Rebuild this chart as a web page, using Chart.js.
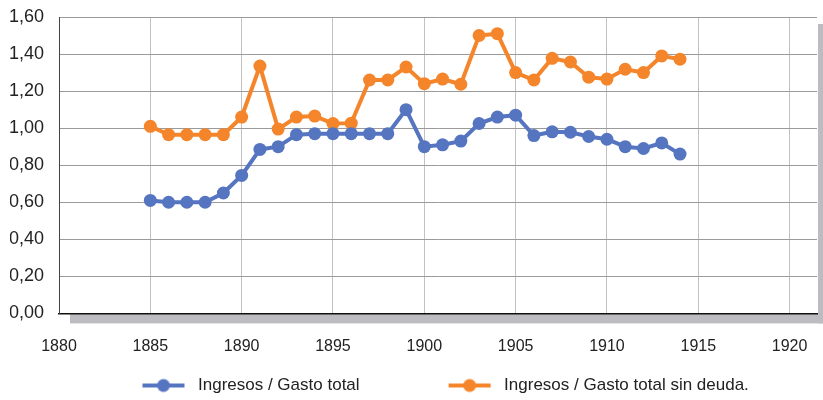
<!DOCTYPE html>
<html>
<head>
<meta charset="utf-8">
<script src="https://cdn.jsdelivr.net/npm/chart.js@4.4.1/dist/chart.umd.min.js"></script>
<style>
  html, body { margin: 0; padding: 0; background: #fff; }
  #wrap { width: 823px; height: 400px; }
</style>
</head>
<body>
<div id="wrap"><canvas id="chart" width="823" height="400"></canvas></div>
<script>
// ---- datos ----
const years = [1885, 1886, 1887, 1888, 1889, 1890, 1891, 1892, 1893, 1894,
               1895, 1896, 1897, 1898, 1899, 1900, 1901, 1902, 1903, 1904,
               1905, 1906, 1907, 1908, 1909, 1910, 1911, 1912, 1913, 1914];
const gastoTotal = [0.61, 0.60, 0.60, 0.60, 0.65, 0.745, 0.885, 0.90, 0.965, 0.97,
                    0.97, 0.97, 0.97, 0.97, 1.10, 0.90, 0.91, 0.93, 1.025, 1.06,
                    1.07, 0.96, 0.98, 0.978, 0.955, 0.94, 0.90, 0.89, 0.92, 0.86];
const gastoSinDeuda = [1.01, 0.965, 0.965, 0.965, 0.965, 1.06, 1.335, 0.995, 1.06, 1.065,
                       1.025, 1.027, 1.26, 1.26, 1.33, 1.24, 1.265, 1.237, 1.50, 1.51,
                       1.30, 1.26, 1.377, 1.357, 1.275, 1.265, 1.318, 1.30, 1.39, 1.372];
const seriesLabels = ["Ingresos / Gasto total", "Ingresos / Gasto total sin deuda."];
const yearTicks = [1880, 1885, 1890, 1895, 1900, 1905, 1910, 1915, 1920];

const BLUE = "#5675c1";
const ORANGE = "#f5852a";
const FONT = "'Liberation Sans', Arial, sans-serif";

// simbolo de leyenda: linea con punto (a la derecha de la caja)
function legendSymbol(color) {
  const c = document.createElement("canvas");
  c.width = 130; c.height = 16;
  const g = c.getContext("2d");
  g.strokeStyle = color;
  g.lineWidth = 4;
  g.beginPath(); g.moveTo(83, 8); g.lineTo(125, 8); g.stroke();
  g.fillStyle = color;
  g.beginPath(); g.arc(104, 8, 6.5, 0, Math.PI * 2); g.fill();
  return c;
}

// "suelo" gris tipo 3D bajo el eje
const floorPlugin = {
  id: "floor",
  beforeDraw(chart) {
    const { ctx, chartArea: a } = chart;
    ctx.save();
    ctx.fillStyle = "#bdbdc1";
    ctx.fillRect(a.left + 11, a.bottom, chart.width - a.left - 11, 10);
    ctx.fillRect(a.right + 1, a.top + 7, chart.width - a.right - 1, a.bottom - a.top + 3);
    ctx.restore();
  }
};

const legendShift = {
  id: "legendShift",
  afterLayout(chart) {
    const lg = chart.legend;
    lg.left = 53.5;
    lg.right = chart.width;
    lg.top += 4;
    lg.bottom += 4;
  }
};

const toPoints = vals => years.map((y, i) => ({ x: y, y: vals[i] }));

new Chart(document.getElementById("chart"), {
  type: "line",
  data: {
    datasets: [
      {
        label: seriesLabels[0],
        data: toPoints(gastoTotal),
        borderColor: BLUE,
        backgroundColor: BLUE,
        borderWidth: 4,
        pointRadius: 6.5,
        pointBorderWidth: 0,
        tension: 0
      },
      {
        label: seriesLabels[1],
        data: toPoints(gastoSinDeuda),
        borderColor: ORANGE,
        backgroundColor: ORANGE,
        borderWidth: 4,
        pointRadius: 6.5,
        pointBorderWidth: 0,
        tension: 0
      }
    ]
  },
  options: {
    responsive: false,
    animation: false,
    layout: { autoPadding: false, padding: { left: 10, right: 6, top: 17, bottom: 0 } },
    plugins: {
      tooltip: { enabled: false },
      legend: {
        position: "bottom",
        align: "start",
        labels: {
          usePointStyle: true,
          pointStyleWidth: 130,
          padding: 6,
          color: "#222",
          font: { family: FONT, size: 17 },
          generateLabels(chart) {
            return chart.data.datasets.map((ds, i) => ({
              text: ds.label,
              fillStyle: ds.borderColor,
              strokeStyle: ds.borderColor,
              lineWidth: 0,
              pointStyle: legendSymbol(ds.borderColor),
              fontColor: "#222",
              datasetIndex: i
            }));
          }
        }
      }
    },
    scales: {
      x: {
        type: "linear",
        min: 1880,
        max: 1921.5,
        afterBuildTicks(scale) {
          scale.ticks = yearTicks.map(v => ({ value: v }));
        },
        afterFit(scale) {
          scale.height = 53.6;
          scale.paddingLeft = 0;
          scale.paddingRight = 0;
        },
        grid: { color: "#c2c2c2", lineWidth: 1, drawTicks: false },
        border: { color: "#111", width: 1.5 },
        ticks: {
          padding: 24,
          color: "#222",
          font: { family: FONT, size: 16 },
          maxRotation: 0,
          callback: v => String(v)
        }
      },
      y: {
        min: 0,
        max: 1.6,
        afterFit(scale) {
          scale.width = 49;
          scale.paddingTop = 0;
          scale.paddingBottom = 0;
        },
        grid: { color: "#9a9a9a", lineWidth: 1, drawTicks: false },
        border: { color: "#444", width: 1 },
        ticks: {
          stepSize: 0.2,
          padding: 15,
          color: "#222",
          font: { family: FONT, size: 18 },
          callback: v => v.toFixed(2).replace(".", ",")
        }
      }
    }
  },
  plugins: [floorPlugin, legendShift]
});
</script>
</body>
</html>
